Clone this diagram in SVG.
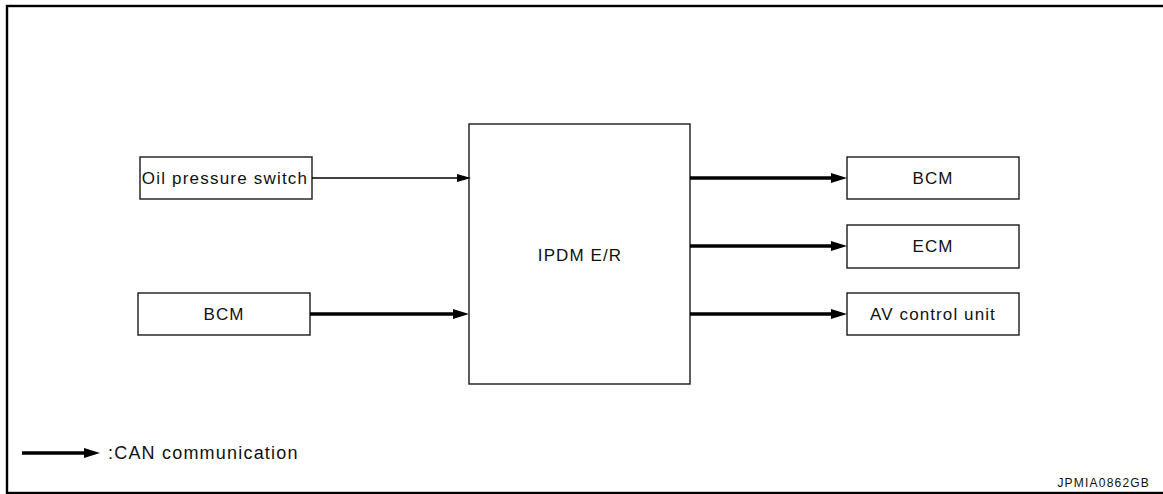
<svg xmlns="http://www.w3.org/2000/svg" width="1163" height="494" viewBox="0 0 1163 494">
<style>
.box{fill:#fff;stroke:#1a1a1a;stroke-width:1.4}
.t{font-family:"Liberation Sans",Arial,sans-serif;font-size:17px;letter-spacing:1.1px;fill:#111;text-anchor:middle}
.thin{stroke:#000;stroke-width:1.4;fill:none}
.thick{stroke:#000;stroke-width:3.5;fill:none}
</style>
<defs>
<marker id="ahThin" markerUnits="userSpaceOnUse" markerWidth="14" markerHeight="8" refX="6" refY="4" orient="auto">
<path d="M0,0 L14,4 L0,8 z" fill="#000"/>
</marker>
<marker id="ahThick" markerUnits="userSpaceOnUse" markerWidth="16" markerHeight="10" refX="8" refY="5" orient="auto">
<path d="M0,0 L16,5 L0,10 z" fill="#000"/>
</marker>
</defs>
<rect x="7" y="6" width="1180" height="487" fill="#fff" stroke="#000" stroke-width="2.4"/>
<g id="oil-pressure-switch">
<rect class="box" x="140" y="157" width="172" height="42"/>
<text class="t" x="225" y="184" style="letter-spacing:1.2px">Oil pressure switch</text>
</g>
<g id="bcm-in">
<rect class="box" x="138" y="293" width="172" height="42"/>
<text class="t" x="224" y="320">BCM</text>
</g>
<g id="ipdm">
<rect class="box" x="469" y="124" width="221" height="260"/>
<text class="t" x="580" y="261">IPDM E/R</text>
</g>
<g id="bcm-out">
<rect class="box" x="847" y="157" width="172" height="42"/>
<text class="t" x="933" y="184">BCM</text>
</g>
<g id="ecm">
<rect class="box" x="847" y="225" width="172" height="43"/>
<text class="t" x="933" y="252">ECM</text>
</g>
<g id="av-control-unit">
<rect class="box" x="847" y="293" width="172" height="42"/>
<text class="t" x="933" y="320">AV control unit</text>
</g>
<g id="connectors">
<line class="thin" x1="312" y1="178" x2="463" y2="178" marker-end="url(#ahThin)"/>
<line class="thick" x1="310" y1="314" x2="461" y2="314" marker-end="url(#ahThick)"/>
<line class="thick" x1="690" y1="178" x2="839" y2="178" marker-end="url(#ahThick)"/>
<line class="thick" x1="690" y1="246" x2="839" y2="246" marker-end="url(#ahThick)"/>
<line class="thick" x1="690" y1="314" x2="839" y2="314" marker-end="url(#ahThick)"/>
</g>
<g id="legend">
<line class="thick" x1="22" y1="453" x2="92" y2="453" stroke-width="2.8" marker-end="url(#ahThick)"/>
<text class="t" x="108" y="459" style="text-anchor:start;font-size:18px;letter-spacing:1.2px">:CAN communication</text>
</g>
<text class="t" x="1150" y="487" style="text-anchor:end;font-size:12px;letter-spacing:1.2px">JPMIA0862GB</text>
</svg>
